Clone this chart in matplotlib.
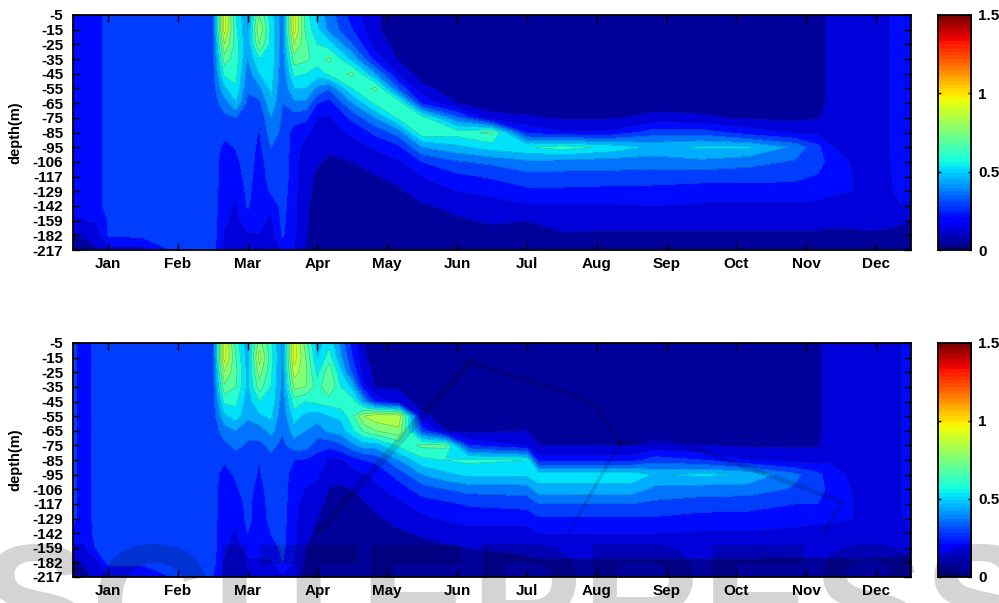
import numpy as np
import matplotlib
matplotlib.use("Agg")
import matplotlib.pyplot as plt
from matplotlib.lines import Line2D

plt.rcParams["font.family"] = ["Liberation Sans", "DejaVu Sans"]
plt.rcParams["font.weight"] = "bold"

months = ["Jan", "Feb", "Mar", "Apr", "May", "Jun", "Jul", "Aug", "Sep", "Oct", "Nov", "Dec"]
month_ticks = [3, 9, 15, 21, 27, 33, 39, 45, 51, 57, 63, 69]
depths = ["-5", "-15", "-25", "-35", "-45", "-55", "-65", "-75", "-85", "-95",
          "-106", "-117", "-129", "-142", "-159", "-182", "-217"]

# pentad index of each profile, values run from -5 m down to -217 m
pentads_top = [0, 2, 3, 6, 9, 11, 12, 13, 14, 15, 16, 17, 18, 19, 20, 21, 22, 24, 26, 28, 30,
               33, 36, 39, 42, 46, 50, 54, 58, 62, 64, 65, 67, 68, 70, 71, 72]
profiles_top = [
    [.20, .20, .20, .20, .20, .20, .20, .20, .20, .20, .20, .20, .20, .20, .14, .07, .04],
    [.20, .20, .20, .20, .20, .20, .20, .20, .20, .20, .20, .20, .20, .20, .17, .11, .07],
    [.28, .28, .28, .28, .28, .28, .28, .28, .28, .28, .28, .28, .28, .28, .24, .245, .13],
    [.28, .28, .28, .28, .28, .28, .28, .28, .28, .28, .28, .28, .28, .28, .27, .26, .13],
    [.28, .28, .28, .28, .28, .28, .28, .28, .28, .28, .28, .28, .28, .28, .28, .28, .27],
    [.28, .28, .28, .28, .28, .28, .28, .28, .28, .28, .28, .28, .28, .28, .28, .28, .28],
    [.28, .28, .28, .28, .28, .28, .28, .28, .28, .28, .28, .28, .28, .28, .28, .28, .27],
    [.92, .92, .80, .68, .58, .46, .36, .30, .26, .22, .20, .20, .19, .18, .17, .15, .14],
    [.56, .58, .60, .60, .58, .55, .47, .32, .27, .245, .22, .20, .17, .15, .14, .14, .14],
    [.40, .40, .42, .40, .36, .33, .30, .28, .28, .28, .28, .27, .26, .25, .20, .15, .13],
    [.72, .80, .72, .56, .48, .38, .30, .25, .235, .22, .21, .20, .19, .18, .19, .155, .13],
    [.52, .54, .54, .54, .52, .50, .46, .40, .36, .32, .28, .27, .25, .18, .14, .12, .07],
    [.36, .36, .36, .35, .34, .33, .32, .31, .30, .30, .29, .29, .28, .27, .26, .25, .18],
    [.90, .92, .80, .68, .58, .48, .38, .28, .20, .20, .19, .19, .18, .18, .18, .17, .16],
    [.60, .62, .66, .66, .56, .48, .38, .26, .18, .13, .11, .10, .10, .09, .09, .085, .075],
    [.46, .50, .56, .60, .52, .38, .24, .16, .13, .11, .085, .07, .06, .05, .04, .04, .03],
    [.36, .38, .52, .66, .58, .33, .20, .15, .13, .09, .07, .05, .05, .04, .04, .03, .03],
    [.20, .24, .32, .46, .66, .56, .40, .26, .17, .13, .08, .06, .05, .04, .04, .04, .04],
    [.09, .09, .12, .20, .40, .66, .58, .40, .26, .17, .12, .075, .05, .04, .04, .04, .04],
    [.04, .04, .05, .07, .14, .30, .62, .58, .36, .22, .15, .10, .07, .05, .04, .04, .04],
    [.04, .04, .04, .04, .04, .10, .22, .60, .62, .40, .24, .16, .11, .07, .04, .04, .04],
    [.04, .04, .04, .04, .04, .04, .08, .34, .60, .46, .31, .22, .16, .10, .07, .05, .04],
    [.04, .04, .04, .04, .04, .04, .05, .10, .66, .52, .34, .25, .18, .13, .09, .05, .04],
    [.04, .04, .04, .04, .04, .04, .04, .09, .22, .55, .38, .29, .22, .15, .08, .05, .04],
    [.04, .04, .04, .04, .04, .04, .04, .07, .17, .60, .37, .29, .22, .15, .11, .07, .04],
    [.04, .04, .04, .04, .04, .04, .04, .07, .17, .54, .36, .29, .21, .15, .10, .07, .04],
    [.04, .04, .04, .04, .04, .04, .05, .10, .28, .46, .36, .28, .21, .16, .10, .07, .04],
    [.04, .04, .04, .04, .04, .04, .05, .09, .28, .49, .38, .27, .20, .15, .10, .07, .05],
    [.04, .04, .04, .04, .04, .04, .05, .07, .20, .49, .35, .27, .20, .15, .10, .07, .05],
    [.05, .05, .05, .05, .05, .05, .05, .06, .15, .38, .31, .26, .20, .15, .10, .07, .05],
    [.06, .06, .06, .06, .06, .06, .06, .075, .14, .26, .28, .23, .19, .14, .10, .07, .05],
    [.09, .09, .09, .09, .09, .09, .09, .10, .13, .17, .21, .19, .17, .14, .10, .06, .05],
    [.12, .12, .12, .12, .12, .12, .12, .12, .12, .13, .15, .16, .16, .13, .10, .065, .05],
    [.12, .12, .12, .12, .12, .12, .12, .12, .12, .12, .12, .12, .12, .12, .10, .07, .05],
    [.15, .15, .15, .15, .15, .15, .15, .15, .15, .15, .15, .14, .13, .12, .10, .065, .05],
    [.19, .19, .19, .19, .19, .19, .19, .19, .19, .19, .19, .19, .19, .15, .09, .06, .05],
    [.20, .20, .20, .20, .20, .20, .20, .20, .20, .20, .20, .20, .20, .13, .08, .05, .04],
]

pentads_bottom = [0, 1, 2, 3, 6, 9, 11, 12, 13, 14, 15, 16, 17, 18, 19, 20, 21, 22, 23, 24, 25, 26, 28,
                  30, 32, 34, 39, 40, 48, 50, 54, 58, 62, 64, 65, 67, 68, 70, 71, 72]
profiles_bottom = [
    [.26, .26, .26, .26, .26, .26, .26, .26, .26, .26, .26, .26, .26, .21, .14, .07, .05],
    [.19, .19, .19, .19, .19, .19, .19, .19, .19, .19, .19, .19, .19, .18, .15, .09, .06],
    [.27, .27, .27, .27, .27, .27, .27, .27, .27, .27, .27, .27, .27, .27, .25, .13, .09],
    [.27, .27, .27, .27, .27, .27, .27, .27, .27, .27, .27, .27, .27, .27, .27, .26, .15],
    [.27, .27, .27, .27, .27, .27, .27, .27, .27, .27, .27, .27, .27, .27, .27, .26, .15],
    [.27, .27, .27, .27, .27, .27, .27, .27, .27, .27, .27, .27, .27, .27, .27, .27, .26],
    [.27, .27, .27, .27, .27, .27, .27, .27, .27, .27, .27, .27, .27, .27, .27, .27, .27],
    [.27, .27, .27, .27, .27, .27, .27, .27, .27, .27, .27, .27, .27, .27, .27, .27, .24],
    [.92, .92, .80, .70, .58, .46, .36, .30, .25, .21, .20, .19, .19, .18, .17, .15, .12],
    [.60, .64, .66, .64, .58, .52, .40, .34, .28, .25, .23, .20, .18, .15, .14, .13, .12],
    [.44, .44, .46, .46, .44, .42, .34, .31, .29, .28, .27, .26, .26, .24, .18, .15, .13],
    [.76, .84, .76, .68, .56, .46, .36, .30, .24, .23, .21, .20, .20, .19, .18, .15, .12],
    [.58, .60, .58, .56, .54, .50, .43, .34, .30, .29, .28, .27, .26, .24, .20, .15, .11],
    [.38, .38, .38, .38, .36, .34, .33, .30, .29, .28, .28, .27, .27, .26, .26, .24, .14],
    [.92, .92, .84, .74, .60, .52, .44, .36, .24, .20, .19, .19, .18, .18, .17, .15, .12],
    [.68, .72, .74, .72, .56, .46, .40, .36, .23, .19, .155, .12, .10, .09, .08, .07, .06],
    [.44, .48, .54, .60, .58, .44, .36, .28, .20, .17, .14, .10, .08, .07, .06, .05, .05],
    [.54, .60, .70, .72, .60, .48, .42, .26, .15, .11, .075, .06, .05, .05, .04, .04, .04],
    [.38, .42, .50, .56, .62, .50, .44, .30, .15, .10, .07, .05, .04, .04, .04, .04, .04],
    [.20, .24, .30, .46, .60, .62, .54, .38, .20, .12, .08, .05, .05, .04, .04, .04, .04],
    [.08, .09, .12, .18, .40, .80, .66, .44, .24, .15, .11, .07, .05, .04, .04, .04, .04],
    [.04, .05, .06, .07, .22, .86, .72, .44, .26, .18, .14, .10, .07, .05, .04, .04, .04],
    [.04, .04, .05, .07, .12, .86, .78, .58, .40, .27, .20, .14, .10, .07, .05, .04, .04],
    [.04, .04, .04, .04, .04, .10, .28, .66, .54, .40, .28, .20, .14, .09, .05, .04, .04],
    [.04, .04, .04, .04, .04, .04, .08, .66, .56, .46, .32, .22, .17, .11, .07, .04, .04],
    [.04, .04, .04, .04, .04, .04, .05, .24, .58, .50, .35, .25, .19, .13, .08, .05, .04],
    [.04, .04, .04, .04, .04, .04, .08, .15, .56, .50, .36, .27, .19, .13, .09, .07, .05],
    [.04, .04, .04, .04, .04, .04, .05, .08, .20, .54, .44, .32, .23, .16, .11, .07, .05],
    [.04, .04, .04, .04, .04, .04, .05, .08, .20, .54, .44, .32, .23, .16, .11, .07, .05],
    [.04, .04, .04, .04, .04, .04, .05, .10, .28, .47, .38, .30, .23, .16, .11, .07, .05],
    [.04, .04, .04, .04, .04, .04, .05, .08, .24, .50, .36, .28, .21, .15, .105, .07, .05],
    [.04, .04, .04, .04, .04, .04, .05, .07, .16, .47, .36, .27, .21, .15, .105, .07, .05],
    [.05, .05, .05, .05, .05, .05, .05, .07, .13, .34, .31, .24, .19, .14, .10, .07, .05],
    [.06, .06, .06, .06, .06, .06, .06, .07, .13, .26, .27, .24, .18, .13, .10, .07, .05],
    [.12, .12, .12, .12, .12, .12, .12, .12, .15, .20, .22, .19, .17, .14, .10, .07, .06],
    [.12, .12, .12, .12, .12, .12, .12, .12, .12, .14, .155, .16, .16, .13, .105, .07, .05],
    [.12, .12, .12, .12, .12, .12, .12, .12, .12, .12, .12, .12, .12, .12, .105, .07, .05],
    [.13, .13, .13, .13, .13, .13, .13, .13, .13, .13, .13, .13, .13, .13, .10, .07, .05],
    [.15, .15, .15, .15, .15, .15, .15, .15, .15, .15, .15, .15, .14, .13, .10, .065, .05],
    [.21, .21, .21, .21, .21, .21, .21, .21, .21, .21, .21, .21, .19, .15, .085, .06, .05],
]

levels = np.arange(0, 1.6, 0.08)
W, H = 999, 603


def px_box(left, top, right, bottom):
    return [left / W, 1 - bottom / H, (right - left) / W, (bottom - top) / H]


def draw_panel(fig, pentads, profiles, top, bottom):
    ax = fig.add_axes(px_box(73, top, 911, bottom))
    z = np.array(profiles).T
    y = np.arange(len(depths))
    ax.contourf(pentads, y, z, levels=levels, cmap="jet", vmin=0, vmax=1.5)
    ax.contour(pentads, y, z, levels=levels, colors="#103040", linewidths=0.4, alpha=0.35)
    ax.set_xlim(0, 72)
    ax.set_ylim(len(depths) - 1, 0)
    ax.set_xticks(month_ticks)
    ax.set_xticklabels(months, fontsize=11)
    ax.set_yticks(y)
    ax.set_yticklabels(depths, fontsize=11)
    ax.set_ylabel("depth(m)", fontsize=10.5, fontweight="bold")
    ax.yaxis.set_label_coords(-0.06, 0.5)
    ax.tick_params(direction="in", length=5, width=1, top=True, right=True, pad=7)
    ax.tick_params(axis="x", pad=5)
    for s in ax.spines.values():
        s.set_linewidth(1.3)

    cax = fig.add_axes(px_box(938, top, 971, bottom))
    cax.imshow(np.linspace(0, 1.5, 64)[:, None], origin="lower", aspect="auto",
               cmap="jet", vmin=0, vmax=1.5, extent=[0, 1, 0, 1.5])
    cax.set_xticks([])
    cax.set_yticks([0, 0.5, 1, 1.5])
    cax.set_yticklabels(["0", "0.5", "1", "1.5"], fontsize=11)
    cax.yaxis.tick_right()
    cax.tick_params(direction="in", length=2, width=1, left=True, right=True, pad=5)
    for s in cax.spines.values():
        s.set_linewidth(1.3)


def draw_watermark(fig):
    # grey publisher stamp over the lower part of the page
    fig.text(-20 / W, 1 - 660 / H, "SCITEPRESS", fontsize=120, color="black", alpha=0.17,
             ha="left", va="baseline")
    strokes = [
        ([320, 470], [530, 362], 5.5),
        ([470, 500, 560, 595, 620], [362, 372, 390, 405, 443], 3.5),
        ([620, 680, 843, 825], [443, 443, 502, 530], 3.5),
        ([620, 570], [443, 530], 2.5),
    ]
    for xs, ys, lw in strokes:
        fig.add_artist(Line2D([v / W for v in xs], [1 - v / H for v in ys], color="black",
                              alpha=0.14, linewidth=lw, transform=fig.transFigure))


def main():
    fig = plt.figure(figsize=(W / 100, H / 100), dpi=100)
    draw_panel(fig, pentads_top, profiles_top, 15, 250)
    draw_panel(fig, pentads_bottom, profiles_bottom, 343, 577)
    draw_watermark(fig)
    fig.savefig("out.png", dpi=100)


if __name__ == "__main__":
    main()
